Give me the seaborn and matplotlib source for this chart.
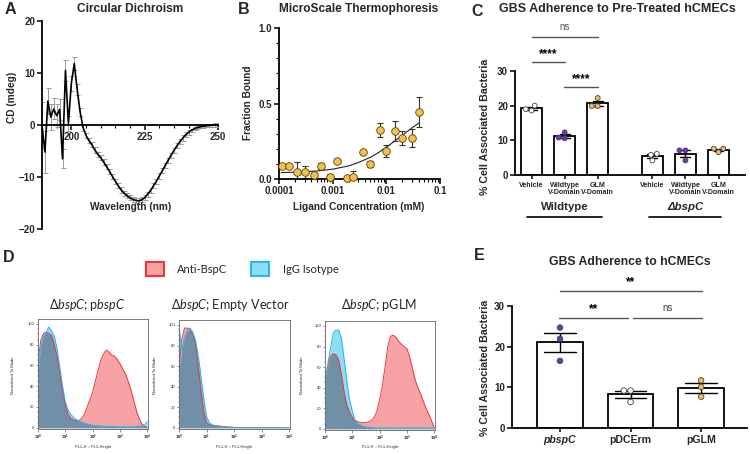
import numpy as np
import pandas as pd
import matplotlib
matplotlib.use("Agg")
import matplotlib.pyplot as plt
import seaborn as sns
from matplotlib.patches import Patch
from matplotlib.ticker import MultipleLocator, LogLocator, NullFormatter, FixedLocator

# ---- A: circular dichroism ----
cd_wavelength = list(range(190, 251))
cd_signal = [0, -5.2, 4.6, 1.5, 3.1, 1.8, 3.0, -6.5, 10.5, 0.3, 8.0, 11.8, 6.8, 2.5, -0.5,
             -2.0, -3.0, -3.8, -4.8, -5.6, -6.3, -7.1, -8.0, -8.9, -9.9, -10.8, -11.7, -12.5,
             -13.1, -13.6, -14.0, -14.3, -14.5, -14.6, -14.4, -14.0, -13.3, -12.6, -11.7, -10.8,
             -9.8, -8.8, -7.8, -6.8, -5.8, -4.9, -4.0, -3.2, -2.5, -1.9, -1.4, -1.0, -0.7, -0.5,
             -0.35, -0.25, -0.15, -0.1, -0.05, 0, 0]
cd_error = [4.5, 4.0, 2.5, 2.5, 2.0, 2.2, 2.0, 1.8, 2.0, 1.5, 1.5, 1.2, 1.0, 0.8, 0.6] + \
           [0.5] * 36 + [0.3] * 10

# ---- B: microscale thermophoresis ----
mst_conc = [1.12e-4, 1.54e-4, 2.2e-4, 3.05e-4, 4.5e-4, 6.0e-4, 8.9e-4, 1.22e-3, 1.82e-3,
            2.4e-3, 3.7e-3, 4.95e-3, 7.6e-3, 9.8e-3, 1.48e-2, 2.0e-2, 3.0e-2, 4.07e-2]
mst_fraction = [0.088, 0.086, 0.048, 0.048, 0.027, 0.086, 0.015, 0.12, 0.007,
                0.011, 0.18, 0.10, 0.325, 0.185, 0.32, 0.27, 0.27, 0.445]
mst_error = [0.0, 0.0, 0.067, 0.04, 0.01, 0.02, 0.02, 0.01, 0.0,
             0.044, 0.015, 0.02, 0.044, 0.04, 0.066, 0.048, 0.06, 0.10]
mst_fit_conc = [1.1e-4, 2e-4, 5e-4, 1e-3, 2e-3, 3e-3, 5e-3, 7e-3, 1e-2, 1.5e-2, 2e-2, 3e-2, 4e-2]
mst_fit_fraction = [0.043, 0.045, 0.053, 0.065, 0.087, 0.109, 0.143, 0.173, 0.210,
                    0.257, 0.291, 0.338, 0.370]

# ---- C: adherence to pre-treated hCMECs ----
c_treatments = ['Vehicle', 'Wildtype\nV-Domain', 'GLM\nV-Domain']
c_strains = ['Wildtype', 'ΔbspC']
c_wt_vehicle = [20.0, 19.0, 18.6]
c_wt_wtv = [10.6, 12.3, 10.8]
c_wt_glmv = [22.2, 19.9, 19.9]
c_ko_vehicle = [6.1, 5.8, 4.2]
c_ko_wtv = [7.1, 7.1, 4.2]
c_ko_glmv = [7.6, 7.6, 6.6]

# ---- D: flow cytometry (normalized to mode), log10 channel grid ----
flow_log_channel = [0.0, 0.1, 0.2, 0.3, 0.4, 0.5, 0.6, 0.7, 0.8, 0.9, 1.0, 1.1, 1.2, 1.3,
                    1.4, 1.5, 1.6, 1.7, 1.8, 1.9, 2.0, 2.1, 2.2, 2.3, 2.4, 2.5, 2.6, 2.7,
                    2.8, 2.9, 3.0, 3.1, 3.2, 3.3, 3.4, 3.5, 3.6, 3.7, 3.8, 3.9, 4.0]
anti_pbspc = [62, 84, 91, 92, 91, 89, 80, 68, 52, 36, 22, 13, 9, 7.5, 7, 7, 9, 13, 20, 27, 34,
              45, 55, 65, 71, 75, 73, 70, 69, 66, 62, 57, 52, 45, 37, 27, 17, 9, 4, 1.5, 0.5]
igg_pbspc = [52, 78, 88, 92, 97, 93, 88, 76, 58, 40, 25, 17, 13, 10, 8, 6.5, 5.5, 4.5, 3.5, 3,
             2.5, 2, 2, 1.8, 1.6, 1.5, 1.4, 1.3, 1.2, 1.1, 1, 1, 1, 1, 1, 1, 1.2, 1.5, 2, 2.5, 6]
anti_empty = [56, 86, 97, 97, 95, 91, 82, 60, 36, 16, 5, 3, 2.5, 2, 2, 1.6, 1.3, 1, 0.8, 0.6,
              0.4, 0.3, 0.2, 0.1] + [0] * 17
igg_empty = [100, 75, 88, 94, 97, 93, 85, 70, 50, 28, 11, 5, 3, 2, 1.5, 1, 0.8, 0.6, 0.5, 0.3,
             0.2, 0.1] + [0] * 19
anti_pglm = [45, 60, 70, 73, 72, 67, 53, 36, 23, 16, 11, 8, 7, 6, 6, 6, 7, 8, 11, 17, 28, 42,
             60, 80, 90, 91, 89, 85, 82, 80, 78, 70, 59, 48, 40, 34, 27, 20, 14, 8, 1]
igg_pglm = [45, 63, 78, 93, 96, 96, 88, 68, 46, 28, 17, 8, 5, 3.5, 2.5, 2, 1.5, 1.2, 1] + [0.8] * 22

# ---- E: adherence to hCMECs ----
e_strains = ['pbspC', 'pDCErm', 'pGLM']
e_pbspc = [24.7, 21.9, 16.5]
e_pdcerm = [9.2, 9.2, 6.4]
e_pglm = [11.7, 10.1, 7.7]

PURPLE = '#7A2BD8'
GOLD = '#F6BE4F'
W, H = 750, 454
LABEL_SIZE = 7.3
TICK_SIZE = 7
TITLE_SIZE = 8.6


def px_axes(fig, left, top, right, bottom):
    return fig.add_axes([left / W, 1 - bottom / H, (right - left) / W, (bottom - top) / H])


def fig_text(fig, x, y, s, **kw):
    kw.setdefault('ha', 'center')
    kw.setdefault('va', 'center')
    fig.text(x / W, 1 - y / H, s, **kw)


def prism_axes(ax):
    for side in ['top', 'right']:
        ax.spines[side].set_visible(False)
    for side in ['left', 'bottom']:
        ax.spines[side].set_linewidth(1.3)
        ax.spines[side].set_color('black')
    ax.tick_params(which='major', width=1.1, length=3.5, labelsize=TICK_SIZE, color='black', pad=1.5)
    ax.tick_params(which='minor', width=0.8, length=2, color='black')


def sig_bar(ax, x1, x2, y, ty, text, size=8.5, color='black', weight='bold'):
    ax.plot([x1, x2], [y, y], color='#555555', lw=1.0, clip_on=False)
    ax.text((x1 + x2) / 2, ty, text, ha='center', va='center', fontsize=size,
            color=color, fontweight=weight, clip_on=False)


sns.set_style('ticks')
plt.rcParams['font.family'] = ['Liberation Sans', 'DejaVu Sans']
plt.rcParams['font.weight'] = 'bold'
plt.rcParams['mathtext.fontset'] = 'custom'
plt.rcParams['mathtext.rm'] = 'Lato:normal'
plt.rcParams['mathtext.it'] = 'Lato:italic:normal'
plt.rcParams['mathtext.bf'] = 'Lato:bold'

fig = plt.figure(figsize=(7.5, 4.54), dpi=100)

# ---------------- A ----------------
axA = px_axes(fig, 42, 21, 218, 229)
prism_axes(axA)
axA.errorbar(cd_wavelength, cd_signal, yerr=cd_error, fmt='none', ecolor='#9a9a9a',
             elinewidth=0.7, capsize=1.8, capthick=0.7, zorder=1)
sns.lineplot(x=cd_wavelength, y=cd_signal, color='black', lw=1.2, ax=axA, zorder=2)
axA.set_xlim(190, 250)
axA.set_ylim(-20, 20)
axA.spines['bottom'].set_position(('data', 0))
axA.set_xticks([200, 225, 250])
axA.xaxis.set_minor_locator(FixedLocator(list(range(195, 250, 5))))
axA.set_yticks([-20, -10, 0, 10, 20])
axA.set_xlabel('')
axA.set_ylabel('')
fig_text(fig, 130, 9, 'Circular Dichroism', fontsize=TITLE_SIZE)
fig_text(fig, 12, 97, 'CD (mdeg)', fontsize=LABEL_SIZE, rotation=90)
fig_text(fig, 131, 207, 'Wavelength (nm)', fontsize=LABEL_SIZE)

# ---------------- B ----------------
axB = px_axes(fig, 279, 28, 440, 179)
prism_axes(axB)
axB.set_xscale('log')
axB.errorbar(mst_conc, mst_fraction, yerr=mst_error, fmt='none', ecolor='#333333',
             elinewidth=0.8, capsize=2, capthick=0.8, zorder=2)
sns.lineplot(x=mst_fit_conc, y=mst_fit_fraction, color='#222222', lw=0.8, ax=axB, zorder=1)
sns.scatterplot(x=mst_conc, y=mst_fraction, color=GOLD, edgecolor='#5a4300', linewidth=0.6,
                s=30, ax=axB, zorder=3, clip_on=False)
axB.set_xlim(1e-4, 1e-1)
axB.set_ylim(0, 1)
axB.set_xticks([1e-4, 1e-3, 1e-2, 1e-1])
axB.set_xticklabels(['0.0001', '0.001', '0.01', '0.1'])
axB.xaxis.set_minor_locator(LogLocator(base=10, subs=np.arange(2, 10)))
axB.xaxis.set_minor_formatter(NullFormatter())
axB.set_yticks([0, 0.5, 1.0])
axB.set_yticklabels(['0.0', '0.5', '1.0'])
axB.yaxis.set_minor_locator(MultipleLocator(0.1))
axB.set_xlabel('')
axB.set_ylabel('')
fig_text(fig, 359, 9, 'MicroScale Thermophoresis', fontsize=TITLE_SIZE)
fig_text(fig, 248, 103, 'Fraction Bound', fontsize=LABEL_SIZE, rotation=90)
fig_text(fig, 359, 207, 'Ligand Concentration (mM)', fontsize=LABEL_SIZE)

# ---------------- C ----------------
axC = px_axes(fig, 515, 71, 745, 175)
prism_axes(axC)
c_positions = [0, 1, 2, 3.65, 4.65, 5.65]
c_points = [c_wt_vehicle, c_wt_wtv, c_wt_glmv, c_ko_vehicle, c_ko_wtv, c_ko_glmv]
c_rows = []
for pos, treat, pts in zip(c_positions, c_treatments * 2, c_points):
    for v in pts:
        c_rows.append({'pos': pos, 'treatment': treat, 'value': v})
c_df = pd.DataFrame(c_rows)
treat_colors = {'Vehicle': 'white', 'Wildtype\nV-Domain': PURPLE, 'GLM\nV-Domain': GOLD}
sns.barplot(data=c_df, x='pos', y='value', native_scale=True, errorbar='se', capsize=0.3,
            width=0.65, color='white', edgecolor='black', linewidth=1.3,
            err_kws={'color': 'black', 'linewidth': 1.0}, ax=axC)
sns.swarmplot(data=c_df, x='pos', y='value', hue='treatment', palette=treat_colors,
              native_scale=True, size=3.5, edgecolor='#444444', linewidth=0.6,
              legend=False, ax=axC, zorder=4)
axC.set_xlim(-0.5, 6.45)
axC.set_ylim(0, 30)
axC.set_yticks([0, 10, 20, 30])
axC.set_xticks(c_positions)
axC.set_xticklabels(c_treatments * 2, fontsize=5.1, linespacing=1.0)
axC.tick_params(axis='x', length=3, pad=2)
axC.set_xlabel('')
axC.set_ylabel('')
sig_bar(axC, 0, 2.02, 39.8, 42.8, 'ns', size=7, color='#555555', weight='normal')
sig_bar(axC, 0, 1.01, 32.7, 35.0, '****')
sig_bar(axC, 0.98, 2.02, 25.3, 27.6, '****')
fig_text(fig, 617, 9, 'GBS Adherence to Pre-Treated hCMECs', fontsize=9.0)
fig_text(fig, 485, 127, '% Cell Associated Bacteria', fontsize=LABEL_SIZE + 0.4, rotation=90)
fig_text(fig, 565, 207, c_strains[0], fontsize=8.2)
fig_text(fig, 685, 207, c_strains[1], fontsize=8.2, fontstyle='italic')
fig.add_artist(plt.Line2D([527 / W, 602 / W], [1 - 217 / H] * 2, color='black', lw=1.2))
fig.add_artist(plt.Line2D([649 / W, 721 / W], [1 - 217 / H] * 2, color='black', lw=1.2))

# ---------------- D ----------------
RED_FILL, RED_LINE = '#F7A2A4', '#F0343C'
BLUE_FILL, BLUE_LINE = '#8CDDF5', '#27B5EA'
OVERLAP = '#7090A8'
d_boxes = [(38, 319, 148, 429), (179, 320, 290, 429), (325, 321, 435, 430)]
d_titles = ['Δ$\\mathit{bspC}$; p$\\mathit{bspC}$', 'Δ$\\mathit{bspC}$; Empty Vector',
            'Δ$\\mathit{bspC}$; pGLM']
d_title_x = [87, 230, 379]
d_ylabel_x = [13, 155, 302]
d_curves = [(anti_pbspc, igg_pbspc), (anti_empty, igg_empty), (anti_pglm, igg_pglm)]
channel = 10 ** np.array(flow_log_channel)
for box, title, tx, yx, (anti, igg) in zip(d_boxes, d_titles, d_title_x, d_ylabel_x, d_curves):
    ax = px_axes(fig, *box)
    ax.set_xscale('log')
    anti = np.array(anti, dtype=float)
    igg = np.array(igg, dtype=float)
    ax.fill_between(channel, anti, color=RED_FILL, lw=0)
    ax.fill_between(channel, igg, color=BLUE_FILL, lw=0)
    ax.fill_between(channel, np.minimum(anti, igg), color=OVERLAP, lw=0)
    sns.lineplot(x=channel, y=anti, color=RED_LINE, lw=0.7, ax=ax)
    sns.lineplot(x=channel, y=igg, color=BLUE_LINE, lw=0.7, ax=ax)
    ax.set_xlim(1, 10 ** 4.03)
    ax.set_ylim(-1.2, 104.8)
    ax.set_yticks([0, 20, 40, 60, 80, 100])
    ax.yaxis.set_minor_locator(MultipleLocator(5))
    ax.set_xticks([1, 10, 100, 1000, 10000])
    ax.xaxis.set_minor_locator(LogLocator(base=10, subs=np.arange(2, 10)))
    ax.xaxis.set_minor_formatter(NullFormatter())
    ax.tick_params(which='major', length=1.8, width=0.4, labelsize=3, pad=1, color='#333333')
    ax.tick_params(which='minor', length=1.0, width=0.3, color='#333333')
    for lab in ax.get_yticklabels():
        lab.set_fontweight('normal')
    for s in ax.spines.values():
        s.set_linewidth(0.6)
        s.set_color('#666666')
    ax.set_xlabel('')
    ax.set_ylabel('')
    cx = (box[0] + box[2]) / 2
    fig_text(fig, tx, 305, title, fontsize=9, fontweight='normal', family=['Lato', 'DejaVu Sans'])
    fig_text(fig, yx, 375, 'Normalized To Mode', fontsize=3, fontweight='normal', rotation=90)
    fig_text(fig, cx, 447, 'FL1-H :: FL1-Height', fontsize=3, fontweight='normal')

d_handles = [Patch(facecolor=RED_FILL, edgecolor=RED_LINE, lw=1.5),
             Patch(facecolor=BLUE_FILL, edgecolor=BLUE_LINE, lw=1.5)]
fig.legend(d_handles, ['Anti-BspC', 'IgG Isotype'], loc='center', bbox_to_anchor=(242 / W, 1 - 269 / H),
           ncol=2, frameon=False, handlelength=1.6, handleheight=1.6, columnspacing=2.2,
           handletextpad=1.2, prop={'family': ['Lato', 'DejaVu Sans'], 'size': 8, 'weight': 'normal'})

# ---------------- E ----------------
axE = px_axes(fig, 512, 306, 747, 428)
prism_axes(axE)
e_rows = []
for strain, pts in zip(e_strains, [e_pbspc, e_pdcerm, e_pglm]):
    for v in pts:
        e_rows.append({'strain': strain, 'value': v})
e_df = pd.DataFrame(e_rows)
strain_colors = {'pbspC': PURPLE, 'pDCErm': 'white', 'pGLM': GOLD}
sns.barplot(data=e_df, x='strain', y='value', order=e_strains, errorbar='se', capsize=0.45,
            width=0.65, color='white', edgecolor='black', linewidth=1.3,
            err_kws={'color': 'black', 'linewidth': 1.0}, ax=axE)
sns.swarmplot(data=e_df, x='strain', y='value', order=e_strains, hue='strain',
              palette=strain_colors, size=4.0, edgecolor='#444444', linewidth=0.6,
              legend=False, ax=axE, zorder=4)
axE.set_xlim(-0.68, 2.65)
axE.set_ylim(0, 30)
axE.set_yticks([0, 10, 20, 30])
axE.tick_params(axis='x', labelsize=7.6, length=3, pad=2)
axE.get_xticklabels()[0].set_fontstyle('italic')
axE.set_xlabel('')
axE.set_ylabel('')
sig_bar(axE, 0, 2.01, 33.6, 35.8, '**')
sig_bar(axE, -0.02, 0.965, 27.0, 29.2, '**')
sig_bar(axE, 1.035, 2.01, 27.0, 29.4, 'ns', size=7, color='#444444', weight='normal')
fig_text(fig, 630, 262, 'GBS Adherence to hCMECs', fontsize=TITLE_SIZE + 0.2)
fig_text(fig, 485, 368, '% Cell Associated Bacteria', fontsize=LABEL_SIZE + 0.4, rotation=90)

# panel letters
for letter, x, y in [('A', 10, 10), ('B', 244, 10), ('C', 477, 12), ('D', 9, 257), ('E', 479, 256)]:
    fig_text(fig, x, y, letter, fontsize=11.5)

fig.savefig('out.png', dpi=100)
